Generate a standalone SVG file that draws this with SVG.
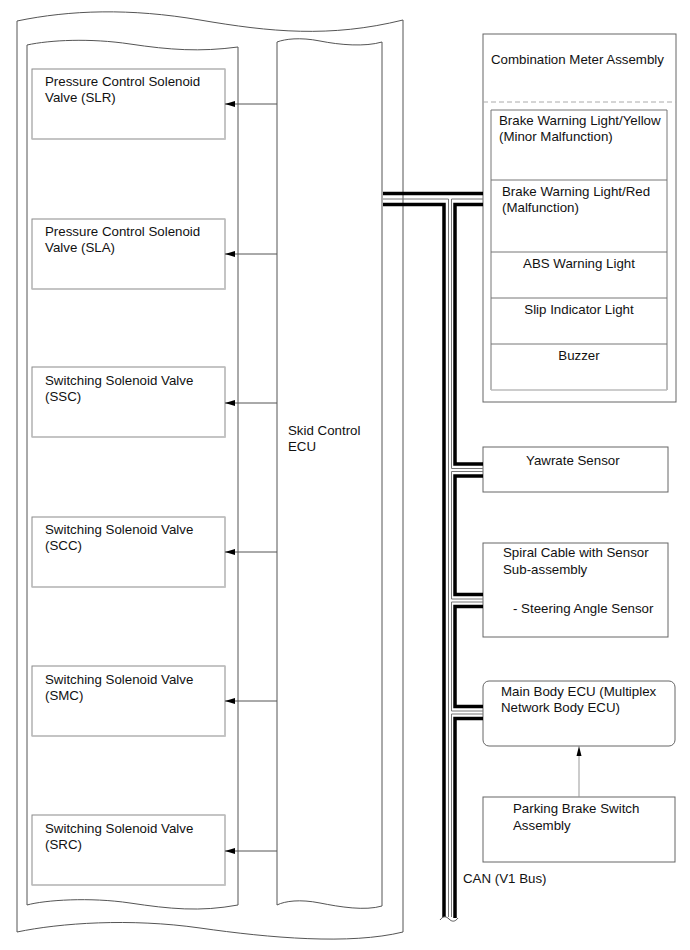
<svg xmlns="http://www.w3.org/2000/svg" width="690" height="950" viewBox="0 0 690 950">
<style>
text{font-family:"Liberation Sans",Arial,sans-serif;font-size:13.3px;fill:#111}
.frame{fill:#fff;stroke:#555;stroke-width:1}
.box{fill:#fff;stroke:#8a8a8a;stroke-width:1}
.lt{fill:none;stroke:#c4c4c4;stroke-width:1.5}
.node{fill:#fff;stroke:#666;stroke-width:1}
.arr{stroke:#555;stroke-width:1;fill:none;marker-end:url(#ah)}
.thick{fill:none;stroke:#000;stroke-width:3.5}
.thin{fill:none;stroke:#777;stroke-width:1}
.sep{stroke:#777;stroke-width:1}
</style>
<defs>
<marker id="ah" markerWidth="10" markerHeight="6" refX="10" refY="3" orient="auto" markerUnits="userSpaceOnUse"><path d="M0,0 L10,3 L0,6 z" fill="#000"/></marker>
</defs>
<rect width="690" height="950" fill="#fff"/>

<g id="outer-frame">
<path class="frame" d="M17,21 C70,10 130,8 200,20 S330,38 403,20 V932 C350,945 270,938 200,928 C130,918 60,923 17,932 Z"/>
</g>
<g id="valve-frame">
<path class="frame" d="M27,45 C50,40 90,38 130,44 S200,52 238,47 V905 C200,912 170,909 130,903 C90,897 45,900 27,905 Z"/>
</g>
<g id="skid-control-ecu">
<path class="frame" d="M277,42 C285,39 300,37 320,41 S365,47 382,42 V906 C365,911 340,907 320,903 C300,899 285,901 277,905 Z"/>
<text x="288" y="435">Skid Control</text>
<text x="288" y="451">ECU</text>
</g>

<g id="slr">
<rect class="box" x="32" y="69" width="193" height="70"/>
<path class="lt" d="M225,69 V139 H32"/>
<text x="45" y="86">Pressure Control Solenoid</text>
<text x="45" y="102">Valve (SLR)</text>
</g>
<g id="sla">
<rect class="box" x="32" y="219" width="193" height="70"/>
<path class="lt" d="M225,219 V289 H32"/>
<text x="45" y="236">Pressure Control Solenoid</text>
<text x="45" y="252">Valve (SLA)</text>
</g>
<g id="ssc">
<rect class="box" x="32" y="367" width="193" height="70"/>
<path class="lt" d="M225,367 V437 H32"/>
<text x="45" y="385">Switching Solenoid Valve</text>
<text x="45" y="401">(SSC)</text>
</g>
<g id="scc">
<rect class="box" x="32" y="517" width="193" height="70"/>
<path class="lt" d="M225,517 V587 H32"/>
<text x="45" y="534">Switching Solenoid Valve</text>
<text x="45" y="550">(SCC)</text>
</g>
<g id="smc">
<rect class="box" x="32" y="666" width="193" height="70"/>
<path class="lt" d="M225,666 V736 H32"/>
<text x="45" y="684">Switching Solenoid Valve</text>
<text x="45" y="700">(SMC)</text>
</g>
<g id="src">
<rect class="box" x="32" y="815" width="193" height="70"/>
<path class="lt" d="M225,815 V885 H32"/>
<text x="45" y="833">Switching Solenoid Valve</text>
<text x="45" y="849">(SRC)</text>
</g>

<g id="combination-meter">
<rect class="node" x="483" y="34" width="193" height="368"/>
<text x="491" y="64">Combination Meter Assembly</text>
<line x1="483" y1="102" x2="676" y2="102" stroke="#aaa" stroke-width="1" stroke-dasharray="5,3"/>
<path d="M491,390 V110 H667 V390" fill="none" stroke="#777" stroke-width="1"/>
<line x1="491" y1="390" x2="667" y2="390" stroke="#bbb" stroke-width="1.5"/>
<line class="sep" x1="491" y1="180" x2="667" y2="180"/>
<line class="sep" x1="491" y1="252" x2="667" y2="252"/>
<line class="sep" x1="491" y1="298" x2="667" y2="298"/>
<line class="sep" x1="491" y1="344" x2="667" y2="344"/>
<text x="499" y="125">Brake Warning Light/Yellow</text>
<text x="499" y="141">(Minor Malfunction)</text>
<text x="502" y="196">Brake Warning Light/Red</text>
<text x="502" y="212">(Malfunction)</text>
<text x="579" y="268" text-anchor="middle">ABS Warning Light</text>
<text x="579" y="314" text-anchor="middle">Slip Indicator Light</text>
<text x="579" y="360" text-anchor="middle">Buzzer</text>
</g>

<g id="yawrate-sensor">
<rect class="node" x="483" y="447" width="185" height="45"/>
<text x="526" y="465">Yawrate Sensor</text>
</g>
<g id="spiral-cable">
<rect class="node" x="483" y="543" width="185" height="94"/>
<text x="503" y="557">Spiral Cable with Sensor</text>
<text x="503" y="574">Sub-assembly</text>
<text x="513" y="613">- Steering Angle Sensor</text>
</g>
<g id="main-body-ecu">
<rect class="node" x="483" y="681" width="192" height="65" rx="6"/>
<text x="501" y="696">Main Body ECU (Multiplex</text>
<text x="501" y="712">Network Body ECU)</text>
</g>
<g id="parking-brake-switch">
<rect class="node" x="483" y="797" width="192" height="65"/>
<text x="513" y="813">Parking Brake Switch</text>
<text x="513" y="830">Assembly</text>
</g>
<g id="can-label">
<text x="463" y="883">CAN (V1 Bus)</text>
</g>

<g id="connectors">
<line class="arr" x1="277" y1="104" x2="225" y2="104"/>
<line class="arr" x1="277" y1="254" x2="225" y2="254"/>
<line class="arr" x1="277" y1="403" x2="225" y2="403"/>
<line class="arr" x1="277" y1="552" x2="225" y2="552"/>
<line class="arr" x1="277" y1="701" x2="225" y2="701"/>
<line class="arr" x1="277" y1="851" x2="225" y2="851"/>
<line x1="579" y1="797" x2="579" y2="756" stroke="#999" stroke-width="1"/>
<path d="M579,746 L576.5,756 L581.5,756 z" fill="#000"/>

<path class="thick" d="M383,193.5 H483"/>
<path class="thin" d="M383,199 H448.5 V917"/>
<path class="thick" d="M383,204.5 H444 V918"/>
<path class="thin" d="M483,199 H451.5 V468.5 H483"/>
<path class="thick" d="M483,204.5 H455 V464 H483"/>
<path class="thin" d="M483,471.5 H451.5 V599 H483"/>
<path class="thick" d="M483,476 H455 V594.5 H483"/>
<path class="thin" d="M483,602 H451.5 V711 H483"/>
<path class="thick" d="M483,606.5 H455 V706.5 H483"/>
<path class="thin" d="M483,714 H451.5 V917"/>
<path class="thick" d="M483,718.5 H455 V918"/>
<path d="M440,920 c3,-4 6,-4 9,-1 s6,3 9,-1" fill="#fff" stroke="#555" stroke-width="1"/>
</g>
</svg>
